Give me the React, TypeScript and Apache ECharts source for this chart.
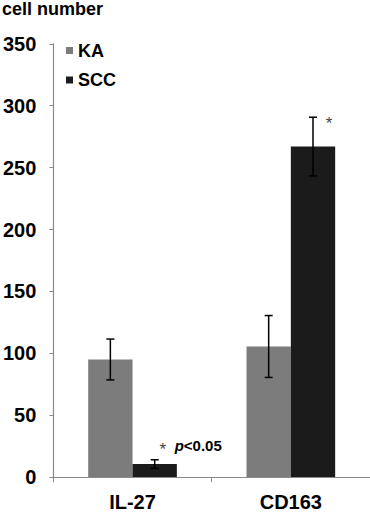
import React, { useEffect, useRef } from "react";
import * as echarts from "echarts";

const categories = ["IL-27", "CD163"];
const seriesNames = ["KA", "SCC"];
const kaValues = [95, 105.5];
const kaErrors = [16.5, 25];
const sccValues = [10.5, 267];
const sccErrors = [3.5, 23.7];
const sccMarks = ["*", "*"];
const sccNotes = ["p<0.05", ""];
const yTicks = [0, 50, 100, 150, 200, 250, 300, 350];

const FONT = "'Liberation Sans', Arial, sans-serif";
const KA_COLOR = "#7c7c7c";
const SCC_COLOR = "#1b1b1b";
const BAR_FRAC = 0.28;
// annotation offsets (px) relative to error-bar top, per category
const markOffsets = [
  [8, -14],
  [16, 2],
];

export default function App() {
  const ref = useRef<HTMLDivElement>(null);
  useEffect(() => {
    if (!ref.current) return;
    const chart = echarts.init(ref.current, null, { renderer: "svg" });

    const errData = (vals: number[], errs: number[]) =>
      vals.map((v, i) => [i, v, v - errs[i], v + errs[i]]);

    const makeErr = (sign: number, withMarks: boolean) =>
      function (params: any, api: any) {
        const idx = api.value(0);
        const band = api.size([1, 0])[0];
        const center = api.coord([idx, 0])[0] + sign * band * BAR_FRAC * 0.5;
        const lo = api.coord([idx, api.value(2)])[1];
        const hi = api.coord([idx, api.value(3)])[1];
        const cap = 4;
        const st = { stroke: "#000", lineWidth: 1.5 };
        const children: any[] = [
          { type: "line", shape: { x1: center, y1: lo, x2: center, y2: hi }, style: st },
          { type: "line", shape: { x1: center - cap, y1: lo, x2: center + cap, y2: lo }, style: st },
          { type: "line", shape: { x1: center - cap, y1: hi, x2: center + cap, y2: hi }, style: st },
        ];
        if (withMarks) {
          const off = markOffsets[idx];
          const ax = center + off[0];
          const ay = hi + off[1];
          children.push({
            type: "text",
            style: {
              text: sccMarks[idx],
              x: ax,
              y: ay + 4,
              align: "center",
              verticalAlign: "middle",
              fontSize: 17,
              fontFamily: FONT,
              fill: "#444",
            },
          });
          if (sccNotes[idx]) {
            children.push({
              type: "text",
              style: {
                text: "{i|p}{b|" + sccNotes[idx].slice(1) + "}",
                x: ax + 12,
                y: ay,
                align: "left",
                verticalAlign: "middle",
                rich: {
                  i: { fontSize: 15, fontWeight: "bold", fontStyle: "italic", fontFamily: FONT, fill: "#000" },
                  b: { fontSize: 15, fontWeight: "bold", fontFamily: FONT, fill: "#000" },
                },
              },
            });
          }
        }
        return { type: "group", children };
      };

    chart.setOption({
      animation: false,
      title: {
        text: "cell number",
        left: 2,
        top: 0,
        padding: 0,
        textStyle: { fontSize: 18, fontWeight: "bold", fontFamily: FONT, color: "#000" },
      },
      legend: {
        orient: "vertical",
        left: 66,
        top: 41.5,
        padding: 0,
        itemWidth: 7,
        itemHeight: 7,
        itemGap: 11.5,
        icon: "rect",
        data: seriesNames,
        textStyle: { fontSize: 18, fontWeight: "bold", fontFamily: FONT, color: "#000", lineHeight: 18 },
      },
      grid: { left: 53, right: 0, top: 43.8, bottom: 35.9, containLabel: false },
      xAxis: {
        type: "category",
        data: categories,
        axisLine: { lineStyle: { color: "#8a8a8a", width: 1.2 } },
        axisTick: { show: true, length: 5, lineStyle: { color: "#8a8a8a" } },
        axisLabel: { fontSize: 20, fontWeight: "bold", fontFamily: FONT, color: "#000", margin: 15 },
      },
      yAxis: {
        type: "value",
        min: yTicks[0],
        max: yTicks[yTicks.length - 1],
        interval: 50,
        axisLine: { show: true, lineStyle: { color: "#8a8a8a", width: 1.2 } },
        axisTick: { show: true, length: 4, lineStyle: { color: "#8a8a8a" } },
        splitLine: { show: false },
        axisLabel: { fontSize: 20, fontWeight: "bold", fontFamily: FONT, color: "#000", margin: 17 },
      },
      series: [
        {
          name: "KA",
          type: "bar",
          data: kaValues,
          barWidth: BAR_FRAC * 100 + "%",
          barGap: "0%",
          itemStyle: { color: KA_COLOR },
        },
        {
          name: "SCC",
          type: "bar",
          data: sccValues,
          barWidth: BAR_FRAC * 100 + "%",
          barGap: "0%",
          itemStyle: { color: SCC_COLOR },
        },
        {
          type: "custom",
          renderItem: makeErr(-1, false),
          data: errData(kaValues, kaErrors),
          z: 10,
          silent: true,
        },
        {
          type: "custom",
          renderItem: makeErr(1, true),
          data: errData(sccValues, sccErrors),
          z: 10,
          silent: true,
        },
      ],
    });
    return () => chart.dispose();
  }, []);
  return (
    <div
      ref={ref}
      style={{ position: "absolute", left: 0, top: 0, width: 370, height: 513, background: "#fff" }}
    />
  );
}
